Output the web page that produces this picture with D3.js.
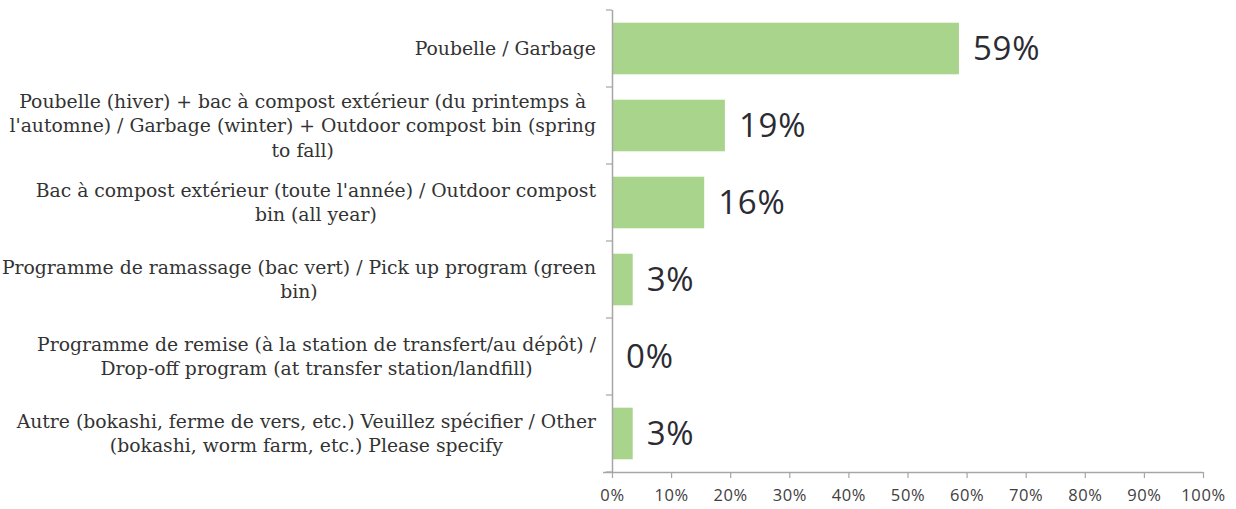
<!DOCTYPE html>
<html><head><meta charset="utf-8">
<script src="https://cdn.jsdelivr.net/npm/d3@7"></script>
<style>body{margin:0;background:#fff}svg{display:block}</style>
</head><body>
<svg id="c" width="1236" height="509"></svg>
<script>
const categories = [
  "Poubelle / Garbage",
  "Poubelle (hiver) + bac à compost extérieur (du printemps à\nl'automne) / Garbage (winter) + Outdoor compost bin (spring\nto fall)",
  "Bac à compost extérieur (toute l'année) / Outdoor compost\nbin (all year)",
  "Programme de ramassage (bac vert) / Pick up program (green\nbin)",
  "Programme de remise (à la station de transfert/au dépôt) /\nDrop-off program (at transfer station/landfill)",
  "Autre (bokashi, ferme de vers, etc.) Veuillez spécifier / Other\n(bokashi, worm farm, etc.) Please specify"
];
const values = [58.7, 19.1, 15.6, 3.5, 0, 3.5];
const valueLabels = ["59%", "19%", "16%", "3%", "0%", "3%"];
const xTicks = [0,10,20,30,40,50,60,70,80,90,100];

(function(){
const svg = d3.select("#c");
const mL = 612, mR = 1203, mT = 10, mB = 472;
const x = d3.scaleLinear().domain([0,100]).range([mL,mR]);
const y = d3.scaleBand().domain(categories).range([mT,mB]).paddingInner(0.33).paddingOuter(0.165);
const axisColor = "#a6a6a6";

svg.selectAll("rect.bar").data(categories).join("rect")
  .attr("x", x(0)).attr("y", d => y(d))
  .attr("width", (d,i) => x(values[i]) - x(0))
  .attr("height", y.bandwidth())
  .attr("fill", "#a8d48b");

svg.selectAll("text.val").data(categories).join("text")
  .attr("x", (d,i) => x(values[i]) + 14)
  .attr("y", d => y(d) + y.bandwidth()/2)
  .attr("dy", "0.36em")
  .attr("font-family", "'Open Sans', sans-serif")
  .attr("font-size", 33)
  .attr("letter-spacing", 0.8)
  .attr("fill", "#2b2b33")
  .text((d,i) => valueLabels[i]);

svg.append("line").attr("x1", mL+0.5).attr("x2", mL+0.5).attr("y1", mT).attr("y2", mB)
  .attr("stroke", axisColor).attr("stroke-width", 1.5);
const yStep = (mB - mT) / categories.length;
const yTickPos = d3.range(categories.length + 1).map(i => mT + i * yStep);
svg.selectAll("line.yt").data(yTickPos).join("line")
  .attr("x1", mL - 6).attr("x2", mL).attr("y1", d => d).attr("y2", d => d)
  .attr("stroke", axisColor).attr("stroke-width", 1.2);

const xAxis = d3.axisBottom(x).tickValues(xTicks).tickSize(6).tickSizeOuter(0).tickFormat(d => d + "%");
const gx = svg.append("g").attr("transform", `translate(0,${mB})`).call(xAxis);
gx.select(".domain").attr("stroke", axisColor).attr("stroke-width", 1.5)
  .attr("d", `M${mL-9},0.5H${mR}`);
gx.selectAll(".tick line").attr("stroke", axisColor).attr("stroke-width", 1.2);
gx.selectAll(".tick text").attr("font-family", "'Open Sans', sans-serif").attr("font-size", 16.5)
  .attr("letter-spacing", 0.6)
  .attr("fill", "#404040").attr("dy", "1.2em");

const lineH = 24.5;
const labelFont = "'DejaVu Serif', serif";
const labelSize = 18.8;
categories.forEach(cat => {
  const lines = cat.split("\n");
  const g = svg.append("g");
  const tmp = g.append("text").attr("font-family", labelFont).attr("font-size", labelSize);
  let maxW = 0;
  lines.forEach(l => { tmp.text(l); maxW = Math.max(maxW, tmp.node().getComputedTextLength()); });
  tmp.remove();
  const cx = 596 - maxW/2;
  const cy = y(cat) + y.bandwidth()/2;
  const y0 = cy - (lines.length - 1) * lineH / 2;
  g.selectAll("text").data(lines).join("text")
    .attr("x", cx).attr("y", (d,i) => y0 + i*lineH)
    .attr("dy", "0.35em")
    .attr("text-anchor", "middle")
    .attr("font-family", labelFont).attr("font-size", labelSize)
    .attr("fill", "#333333")
    .text(d => d);
});
})();
</script>
</body></html>
